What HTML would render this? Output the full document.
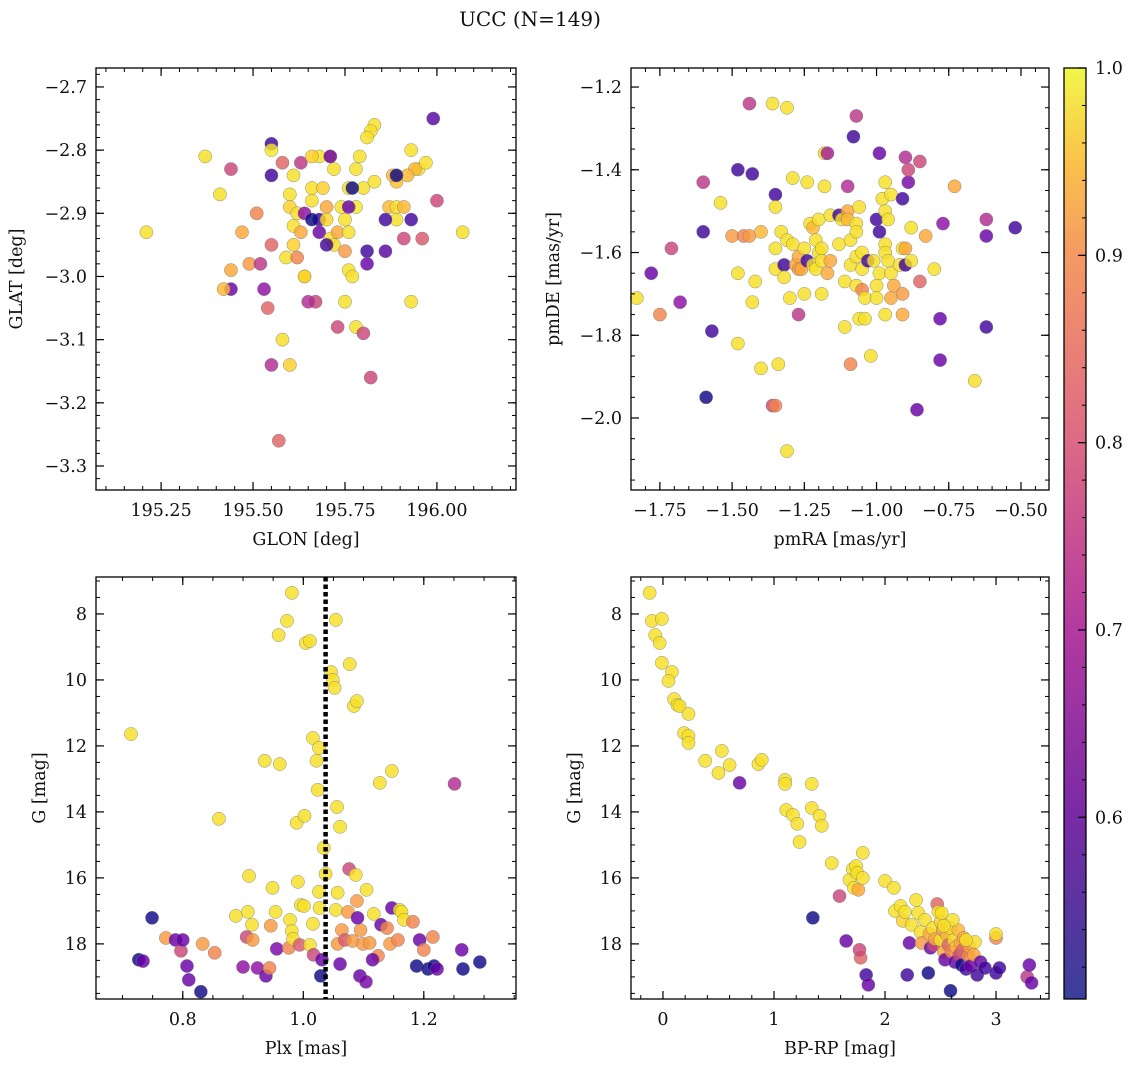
<!DOCTYPE html>
<html><head><meta charset="utf-8"><style>
html,body{margin:0;padding:0;background:#fff}
svg text{font-family:"DejaVu Serif","Liberation Serif",serif;fill:#111}
</style></head><body>
<svg id="fig" width="1136" height="1067" xmlns="http://www.w3.org/2000/svg">
<defs><linearGradient id="cbg" x1="0" y1="1" x2="0" y2="0">
<stop offset="0" stop-color="#3b3f99"/><stop offset="0.2" stop-color="#7a2aa6"/><stop offset="0.4" stop-color="#b43aa0"/><stop offset="0.6" stop-color="#dd6a86"/><stop offset="0.8" stop-color="#f59a63"/><stop offset="0.9" stop-color="#fbc24a"/><stop offset="1" stop-color="#f1f74a"/></linearGradient></defs>
<text x="530" y="26" font-size="20" text-anchor="middle">UCC (N=149)</text>
</svg>
<script>
// ---- data: top-left (GLON vs GLAT)
const tlX=[195.21,195.37,195.41,195.44,195.44,195.44,195.42,195.47,195.51,195.49,195.52,195.53,195.54,195.55,195.55,195.55,195.55,195.55,195.57,195.58,195.58,195.59,195.60,195.60,195.61,195.61,195.62,195.63,195.62,195.64,195.64,195.60,195.61,195.63,195.64,195.66,195.66,195.68,195.68,195.70,195.71,195.69,195.70,195.72,195.72,195.73,195.75,195.76,195.74,195.75,195.76,195.77,195.78,195.78,195.79,195.76,195.71,195.68,195.66,195.75,195.76,195.81,195.81,195.67,195.65,195.73,195.80,195.83,195.82,195.81,195.87,195.89,195.89,195.78,195.80,195.82,195.86,195.86,195.89,195.89,195.88,195.83,195.91,195.93,195.95,195.94,195.92,195.91,195.93,195.97,195.89,195.93,195.96,195.99,196.00,196.07,195.66,195.70,195.77,195.71];
const tlY=[-2.93,-2.81,-2.87,-2.83,-3.02,-2.99,-3.02,-2.93,-2.90,-2.98,-2.98,-3.02,-3.05,-2.79,-2.84,-2.95,-2.80,-3.14,-3.26,-3.10,-2.82,-2.97,-2.87,-2.89,-2.92,-2.95,-2.90,-2.93,-2.97,-3.00,-3.00,-3.14,-2.84,-2.82,-2.90,-2.88,-2.86,-2.91,-2.93,-2.89,-2.94,-2.86,-2.91,-2.83,-2.95,-2.93,-2.91,-2.93,-2.89,-2.96,-2.99,-3.00,-2.89,-2.83,-2.81,-2.86,-2.81,-2.81,-2.81,-3.04,-2.89,-2.96,-2.98,-3.04,-3.04,-3.08,-2.86,-2.76,-2.77,-2.78,-2.89,-2.89,-2.91,-3.08,-3.09,-3.16,-2.91,-2.96,-2.84,-2.85,-2.84,-2.85,-2.89,-2.80,-2.83,-2.83,-2.84,-2.94,-3.04,-2.82,-2.84,-2.91,-2.94,-2.75,-2.88,-2.93,-2.91,-2.95,-2.86,-2.81];
const tlP=[.97,.97,.97,.75,.6,.9,.92,.9,.85,.88,.72,.65,.8,.55,.55,.8,.98,.7,.8,.97,.8,.97,.97,.95,.97,.95,.97,.9,.85,.97,.95,.95,.97,.72,.65,.97,.97,.55,.6,.9,.97,.95,.96,.97,.97,.9,.97,.97,.97,.88,.97,.97,.98,.97,.97,.97,.96,.97,.95,.97,.6,.55,.6,.75,.7,.75,.97,.97,.97,.97,.92,.97,.97,.97,.75,.75,.55,.58,.97,.93,.92,.97,.92,.97,.97,.92,.92,.75,.97,.97,.5,.55,.78,.58,.75,.97,.5,.55,.5,.6];
// ---- data: top-right (pmRA vs pmDE)
const trX=[-1.83,-1.78,-1.71,-1.75,-1.68,-1.60,-1.60,-1.57,-1.59,-1.54,-1.50,-1.48,-1.48,-1.48,-1.46,-1.44,-1.43,-1.44,-1.43,-1.42,-1.40,-1.40,-1.36,-1.35,-1.35,-1.35,-1.36,-1.31,-1.35,-1.34,-1.35,-1.33,-1.32,-1.32,-1.31,-1.31,-1.30,-1.29,-1.29,-1.28,-1.27,-1.27,-1.26,-1.25,-1.25,-1.27,-1.24,-1.24,-1.23,-1.22,-1.22,-1.21,-1.21,-1.20,-1.20,-1.19,-1.19,-1.19,-1.18,-1.17,-1.16,-1.18,-1.16,-1.17,-1.13,-1.13,-1.12,-1.11,-1.11,-1.10,-1.10,-1.10,-1.09,-1.09,-1.09,-1.08,-1.07,-1.07,-1.07,-1.07,-1.07,-1.06,-1.06,-1.05,-1.05,-1.05,-1.04,-1.04,-1.03,-1.02,-1.01,-1.00,-1.00,-1.00,-0.99,-0.99,-0.99,-0.98,-0.97,-0.97,-0.97,-0.97,-0.97,-0.96,-0.96,-0.95,-0.95,-0.95,-0.94,-0.92,-0.91,-0.91,-0.90,-0.90,-0.90,-0.91,-0.91,-0.89,-0.89,-0.88,-0.88,-0.86,-0.85,-0.85,-0.83,-0.80,-0.78,-0.78,-0.77,-0.73,-0.66,-0.62,-0.62,-0.62,-0.52];
const trY=[-1.71,-1.65,-1.59,-1.75,-1.72,-1.43,-1.55,-1.79,-1.95,-1.48,-1.56,-1.40,-1.65,-1.82,-1.56,-1.24,-1.41,-1.56,-1.72,-1.67,-1.55,-1.88,-1.97,-1.46,-1.49,-1.59,-1.24,-1.25,-1.64,-1.87,-1.97,-1.55,-1.63,-1.66,-1.57,-2.08,-1.71,-1.58,-1.42,-1.63,-1.61,-1.64,-1.64,-1.59,-1.70,-1.75,-1.43,-1.62,-1.53,-1.63,-1.54,-1.57,-1.64,-1.60,-1.52,-1.59,-1.62,-1.70,-1.44,-1.65,-1.62,-1.36,-1.51,-1.36,-1.51,-1.58,-1.52,-1.67,-1.78,-1.44,-1.50,-1.52,-1.57,-1.63,-1.87,-1.32,-1.27,-1.53,-1.61,-1.55,-1.68,-1.49,-1.76,-1.60,-1.64,-1.69,-1.71,-1.76,-1.62,-1.85,-1.62,-1.52,-1.68,-1.71,-1.55,-1.36,-1.65,-1.47,-1.50,-1.43,-1.75,-1.58,-1.60,-1.52,-1.62,-1.46,-1.65,-1.71,-1.68,-1.63,-1.47,-1.59,-1.37,-1.59,-1.63,-1.70,-1.75,-1.43,-1.40,-1.54,-1.62,-1.98,-1.67,-1.38,-1.56,-1.64,-1.86,-1.76,-1.53,-1.44,-1.91,-1.52,-1.56,-1.78,-1.54];
const trP=[.97,.6,.75,.85,.65,.72,.55,.55,.5,.97,.88,.55,.97,.97,.85,.72,.55,.88,.97,.97,.92,.97,.75,.55,.97,.97,.97,.97,.97,.97,.85,.97,.55,.97,.97,.97,.97,.97,.97,.9,.9,.88,.9,.97,.97,.72,.97,.55,.97,.97,.92,.97,.97,.97,.97,.97,.97,.97,.97,.9,.9,.97,.97,.68,.55,.97,.97,.97,.97,.7,.9,.92,.97,.97,.85,.55,.72,.97,.97,.97,.97,.97,.97,.97,.97,.85,.97,.97,.55,.97,.97,.55,.97,.97,.55,.6,.97,.97,.97,.97,.97,.97,.97,.97,.97,.97,.97,.9,.9,.97,.55,.97,.7,.9,.55,.88,.9,.62,.75,.97,.97,.6,.8,.75,.9,.97,.6,.6,.65,.9,.97,.7,.6,.55,.55];
// ---- data: bottom-left (Plx vs G)
const blX=[0.714,0.727,0.734,0.749,0.772,0.788,0.797,0.800,0.807,0.810,0.830,0.833,0.853,0.860,0.888,0.900,0.906,0.908,0.915,0.910,0.916,0.924,0.938,0.936,0.944,0.946,0.949,0.954,0.956,0.961,0.959,0.973,0.981,0.976,0.978,0.981,0.983,0.989,0.991,0.994,0.996,1.001,1.002,1.004,1.011,1.011,1.016,1.016,1.017,1.022,1.024,1.029,1.027,1.031,1.034,1.037,1.026,1.026,1.054,1.046,1.049,1.052,1.056,1.061,1.057,1.054,1.064,1.057,1.061,1.069,1.076,1.077,1.084,1.089,1.087,1.089,1.095,1.082,1.099,1.094,1.104,1.110,1.117,1.124,1.129,1.127,1.139,1.144,1.115,1.147,1.147,1.160,1.163,1.167,1.157,1.182,1.188,1.193,1.200,1.207,1.217,1.222,1.215,1.251,1.263,1.265,1.293,1.105,1.074,1.090];
const blY=[11.64,18.48,18.52,17.21,17.82,17.88,18.21,17.88,18.67,19.09,19.45,18.0,18.27,14.21,17.15,18.70,17.79,17.03,17.42,15.94,17.88,18.73,18.97,12.45,18.73,17.45,16.30,17.03,18.15,12.55,8.64,8.21,7.36,18.12,17.27,17.61,17.85,14.33,16.12,18.03,16.82,16.85,14.12,8.88,8.82,18.03,11.76,17.39,18.33,12.45,13.33,18.97,16.91,18.48,15.09,15.88,12.06,16.42,8.18,9.76,10.0,10.24,13.85,14.45,16.45,16.97,17.58,18.0,18.61,17.88,15.73,9.52,10.79,10.64,15.91,16.70,17.58,17.91,18.0,18.97,19.15,17.97,17.09,18.36,17.42,13.12,17.52,18.0,18.48,16.91,12.76,16.97,17.03,17.27,17.88,17.33,18.67,17.88,18.18,18.76,18.67,18.76,17.79,13.15,18.18,18.76,18.55,16.36,17.03,17.21];
const blP=[.97,.5,.6,.5,.88,.6,.75,.6,.6,.6,.5,.88,.85,.97,.97,.65,.75,.97,.97,.97,.88,.65,.6,.97,.85,.88,.97,.97,.62,.97,.97,.97,.97,.85,.97,.97,.97,.97,.97,.78,.97,.97,.97,.97,.97,.97,.97,.97,.75,.97,.97,.5,.97,.6,.97,.97,.97,.97,.97,.97,.97,.97,.97,.97,.97,.97,.88,.88,.6,.78,.75,.97,.97,.97,.97,.88,.88,.88,.88,.6,.62,.88,.97,.85,.6,.97,.85,.88,.6,.6,.97,.97,.97,.97,.85,.85,.5,.6,.85,.5,.5,.6,.85,.7,.6,.5,.5,.97,.88,.6];
// ---- data: bottom-right (BP-RP vs G)
const brX=[-0.12,-0.10,-0.07,-0.01,-0.03,-0.01,0.08,0.05,0.10,0.13,0.15,0.23,0.19,0.23,0.23,0.38,0.50,0.53,0.60,0.69,0.86,0.89,1.10,1.10,1.11,1.17,1.21,1.23,1.34,1.34,1.35,1.41,1.43,1.52,1.59,1.65,1.68,1.71,1.74,1.72,1.75,1.76,1.80,1.78,1.77,1.80,1.83,1.85,2.00,2.08,2.09,2.14,2.16,2.18,2.20,2.22,2.24,2.28,2.30,2.32,2.33,2.36,2.39,2.40,2.41,2.43,2.44,2.45,2.47,2.48,2.50,2.50,2.52,2.53,2.54,2.56,2.57,2.59,2.59,2.60,2.62,2.63,2.64,2.66,2.67,2.68,2.69,2.70,2.71,2.73,2.75,2.76,2.77,2.80,2.81,2.83,2.86,2.90,3.00,3.00,3.00,3.03,3.28,3.30,3.32,2.73,2.51,2.61,2.53];
const brY=[7.36,8.21,8.64,8.15,8.88,9.48,9.76,10.03,10.58,10.76,10.79,11.03,11.61,11.70,11.91,12.45,12.82,12.15,12.58,13.12,12.55,12.42,13.03,13.15,13.94,14.09,14.36,14.91,13.15,13.88,17.21,14.12,14.42,15.55,16.55,17.91,16.06,15.73,15.64,16.30,15.85,16.36,16.0,18.42,18.18,15.24,18.94,19.24,16.09,16.30,17.0,16.85,17.30,17.03,18.94,17.97,17.42,16.67,17.06,17.64,17.97,17.27,18.88,17.70,18.12,17.52,18.03,17.85,16.79,17.03,17.33,17.88,17.58,18.24,18.48,17.73,18.03,19.42,17.52,18.24,17.88,18.55,18.09,17.58,18.33,17.97,18.64,18.18,17.82,18.76,18.36,18.09,18.67,18.33,17.94,18.94,18.55,18.73,17.82,17.70,18.88,18.73,19.0,18.64,19.18,17.88,17.06,17.27,17.45];
const brP=[.97,.97,.97,.97,.97,.97,.97,.97,.97,.97,.97,.97,.97,.97,.97,.97,.97,.97,.97,.6,.97,.97,.97,.97,.97,.97,.97,.97,.97,.97,.5,.97,.97,.97,.75,.6,.97,.97,.97,.97,.97,.9,.97,.8,.75,.97,.55,.6,.97,.97,.97,.97,.95,.97,.55,.6,.97,.97,.97,.97,.88,.97,.5,.9,.6,.97,.75,.9,.8,.97,.95,.97,.88,.9,.6,.92,.8,.5,.97,.85,.97,.6,.92,.92,.75,.9,.5,.8,.9,.55,.85,.88,.6,.9,.97,.55,.6,.55,.85,.97,.55,.55,.72,.6,.6,.97,.97,.97,.97];
const cbTicks=[0.6,0.7,0.8,0.9,1.0];

const NS="http://www.w3.org/2000/svg";
const svg=document.getElementById('fig');
function mk(tag,attrs,parent){const e=document.createElementNS(NS,tag);for(const k in attrs)e.setAttribute(k,attrs[k]);(parent||svg).appendChild(e);return e;}
const PMIN=0.503,PMAX=1.0;
const stops=[[0,[13,8,135]],[0.1,[65,4,157]],[0.2,[106,0,168]],[0.3,[143,13,164]],[0.4,[177,42,144]],[0.5,[204,71,120]],[0.6,[225,100,98]],[0.7,[242,132,75]],[0.8,[252,166,54]],[0.9,[252,206,37]],[1,[240,249,33]]];
function plasma(t){t=Math.max(0,Math.min(1,t));for(let i=1;i<stops.length;i++){if(t<=stops[i][0]){const a=stops[i-1],b=stops[i];const f=(t-a[0])/(b[0]-a[0]);const c=a[1].map((v,j)=>Math.round(v+(b[1][j]-v)*f));return `rgb(${c})`;}}return 'rgb(240,249,33)';}
function fmt(v,d){let s=v.toFixed(d);return s.replace('-','\u2212');}
const FS=17.5;
function panel(name,L,T,W,H,xd,yd,xt,xmin,yt,ymin,xdec,ydec,xlab,ylab,X,Y,P){
  const g=mk('g',{});
  
  
  const sx=v=>L+(v-xd[0])/(xd[1]-xd[0])*W;
  const sy=v=>T+(v-yd[0])/(yd[1]-yd[0])*H;
  P.forEach((p,i)=>{
    const c=mk('circle',{cx:sx(X[i]),cy:sy(Y[i]),r:6.6,fill:plasma((P[i]-PMIN)/(PMAX-PMIN)),'fill-opacity':0.82,stroke:'#777','stroke-width':0.5,'stroke-opacity':0.8},g);
    
    
  });
  const fr=mk('rect',{x:L,y:T,width:W,height:H,fill:'none',stroke:'#000','stroke-width':1.3},g);
  
  
  const lo=Math.min(xd[0],xd[1]),hi=Math.max(xd[0],xd[1]);
  for(let v=Math.ceil(lo/xmin-1e-6)*xmin;v<=hi+1e-9;v+=xmin){const x=sx(v);mk('line',{x1:x,x2:x,y1:T+H,y2:T+H-4,stroke:'#000'},g);mk('line',{x1:x,x2:x,y1:T,y2:T+4,stroke:'#000'},g);}
  xt.forEach(v=>{const x=sx(v);mk('line',{x1:x,x2:x,y1:T+H,y2:T+H-8,stroke:'#000','stroke-width':1.2},g);mk('line',{x1:x,x2:x,y1:T,y2:T+8,stroke:'#000','stroke-width':1.2},g);
    const t=mk('text',{x:x,y:T+H+26,'font-size':FS,'text-anchor':'middle'},g);t.textContent=fmt(v,xdec);});
  const ylo=Math.min(yd[0],yd[1]),yhi=Math.max(yd[0],yd[1]);
  for(let v=Math.ceil(ylo/ymin-1e-6)*ymin;v<=yhi+1e-9;v+=ymin){const y=sy(v);mk('line',{x1:L,x2:L+4,y1:y,y2:y,stroke:'#000'},g);mk('line',{x1:L+W,x2:L+W-4,y1:y,y2:y,stroke:'#000'},g);}
  yt.forEach(v=>{const y=sy(v);mk('line',{x1:L,x2:L+8,y1:y,y2:y,stroke:'#000','stroke-width':1.2},g);mk('line',{x1:L+W,x2:L+W-8,y1:y,y2:y,stroke:'#000','stroke-width':1.2},g);
    const t=mk('text',{x:L-9,y:y+6,'font-size':FS,'text-anchor':'end'},g);t.textContent=fmt(v,ydec);});
  const xl=mk('text',{x:L+W/2,y:T+H+55,'font-size':FS,'text-anchor':'middle'},g);xl.textContent=xlab;
  
  const yx=name.startsWith('tl')||name.startsWith('bl')?(name.startsWith('tl')?22:45):(name.startsWith('tr')?559:580);
  const yl=mk('text',{x:yx,y:T+H/2,'font-size':FS,'text-anchor':'middle',transform:`rotate(-90 ${yx} ${T+H/2})`},g);yl.textContent=ylab;
  
  return {sx,sy,g};
}
panel('tl',96,68,420,422,[195.073,196.215],[-2.67,-3.338],[195.25,195.5,195.75,196.0],0.05,[-2.7,-2.8,-2.9,-3.0,-3.1,-3.2,-3.3],0.02,2,1,'GLON [deg]','GLAT [deg]',tlX,tlY,tlP);
panel('tr',631,68,418,422,[-1.85,-0.403],[-1.154,-2.174],[-1.75,-1.5,-1.25,-1.0,-0.75,-0.5],0.05,[-1.2,-1.4,-1.6,-1.8,-2.0],0.05,2,1,'pmRA [mas/yr]','pmDE [mas/yr]',trX,trY,trP);
const bl=panel('bl',96,577,420,422,[0.656,1.353],[6.88,19.67],[0.8,1.0,1.2],0.05,[8,10,12,14,16,18],0.5,1,0,'Plx [mas]','G [mag]',blX,blY,blP);
const plxMedian=1.037;
const vl=mk('line',{x1:bl.sx(plxMedian),x2:bl.sx(plxMedian),y1:577,y2:999,stroke:'#000','stroke-width':4.5,'stroke-dasharray':'4.5 3'});


panel('br',631,577,418,422,[-0.288,3.477],[6.88,19.67],[0,1,2,3],0.2,[8,10,12,14,16,18],0.5,0,0,'BP-RP [mag]','G [mag]',brX,brY,brP);
// colorbar
const cb=mk('g',{});


mk('rect',{x:1064,y:68,width:22,height:931,fill:'url(#cbg)'},cb);
mk('rect',{x:1064,y:68,width:22,height:931,fill:'none',stroke:'#000','stroke-width':1.3},cb);
const cy=v=>999-(v-PMIN)/(PMAX-PMIN)*931;
for(let v=0.52;v<=1.0001;v+=0.02){mk('line',{x1:1086,x2:1082,y1:cy(v),y2:cy(v),stroke:'#000'},cb);}
cbTicks.forEach(v=>{mk('line',{x1:1086,x2:1078,y1:cy(v),y2:cy(v),stroke:'#000','stroke-width':1.2},cb);
  const t=mk('text',{x:1095,y:cy(v)+6,'font-size':FS},cb);t.textContent=v.toFixed(1);
  
  });
</script>
</body></html>
